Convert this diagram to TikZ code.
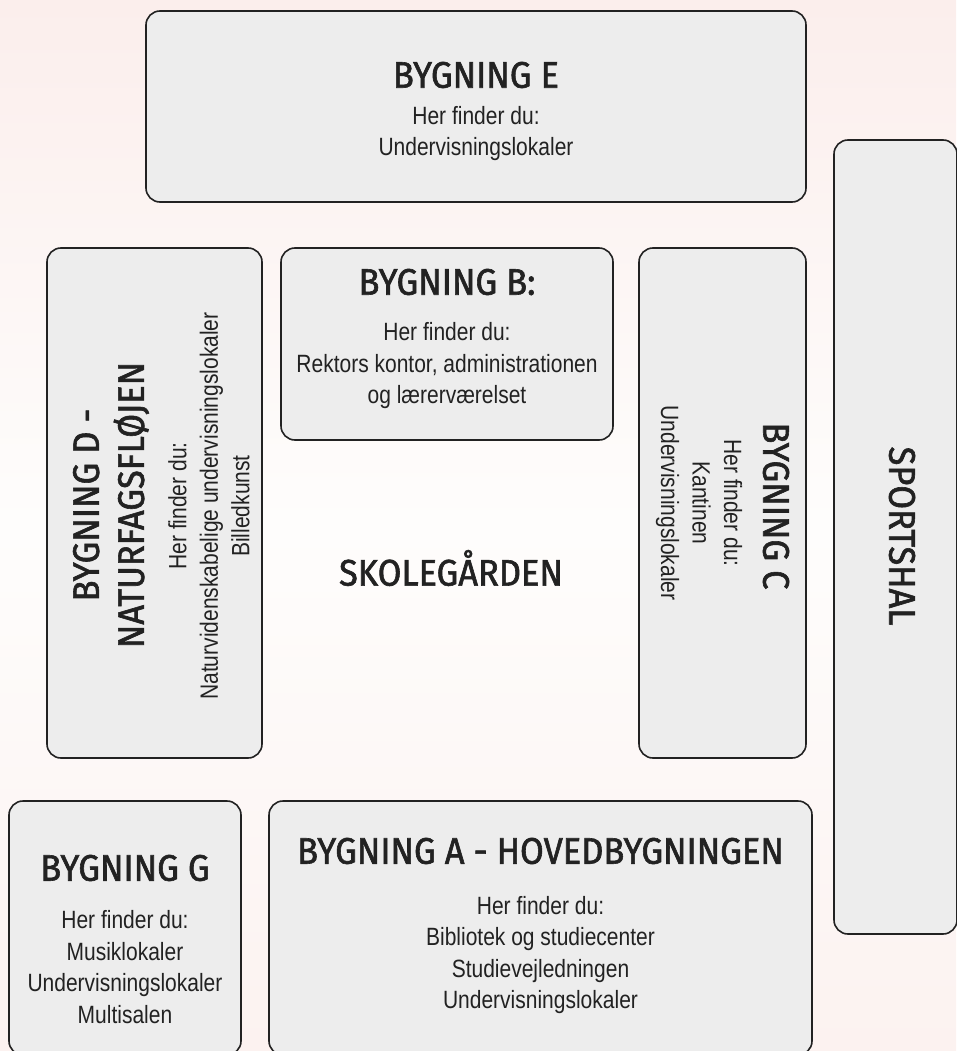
\documentclass[tikz,border=0pt]{standalone}
\usepackage{fontspec}
\setmainfont{Liberation Sans}[FakeStretch=0.84]
\newfontfamily\headfont{Fira Sans}[FakeStretch=0.93, FakeBold=1.6]
\usepackage{tikz}
\usetikzlibrary{%
  positioning%
}
\definecolor{husgraa}{HTML}{EDEDED}
\definecolor{kant}{HTML}{222222}
\definecolor{bgtop}{HTML}{FBEEEC}
\definecolor{bgmidt}{HTML}{FEFDFC}
\definecolor{bgbund}{HTML}{FCF2F0}

\tikzset{
  bygning/.style = {draw=kant, line width=1.6pt, fill=husgraa, rounded corners=14pt, inner sep=0pt},
  titel/.style   = {font=\headfont\fontsize{37}{45}\selectfont, text=kant, inner sep=0pt, align=center},
  info/.style    = {font=\fontsize{25}{31.5}\selectfont, text=kant, inner sep=0pt, align=center}
}

\begin{document}
\begin{tikzpicture}[x=1pt, y=-1pt]
  \useasboundingbox (0,0) rectangle (956,1051);
  \shade[top color=bgtop, bottom color=bgbund, middle color=bgmidt] (0,0) rectangle (956,1051);

  % bygninger
  \node[bygning, minimum width=660, minimum height=191] (bygE) at (476,106.5) {};
  \node[bygning, minimum width=332, minimum height=192] (bygB) at (447,344) {};
  \node[bygning, minimum width=215, minimum height=510] (bygD) at (154.5,503) {};
  \node[bygning, minimum width=167, minimum height=510] (bygC) at (722.5,503) {};
  \node[bygning, minimum width=123, minimum height=794] (sport) at (895.5,537) {};
  \node[bygning, minimum width=232, minimum height=254] (bygG) at (125,928) {};
  \node[bygning, minimum width=543, minimum height=254] (bygA) at (540.5,928) {};

  % overskrifter
  \node[titel] (titE) at (476,75) {BYGNING E};
  \node[titel] (titB) at (447,282) {BYGNING B:};
  \node[titel, rotate=90] (titD) at (111,505) {BYGNING D -\\NATURFAGSFLØJEN};
  \node[titel, rotate=-90] (titC) at (776,506) {BYGNING C};
  \node[titel, rotate=-90] (titS) at (902,536) {SPORTSHAL};
  \node[titel] (titG) at (125,868) {BYGNING G};
  \node[titel] (titA) at (540.5,851) {BYGNING A - HOVEDBYGNINGEN};
  \node[titel] (gaard) at (451,568) {SKOLEGÅRDEN};

  % her finder du
  \node[info] (infoE) at (476,133.5) {Her finder du:\\Undervisningslokaler};
  \node[info] (infoB) at (447,366) {Her finder du:\\Rektors kontor, administrationen\\og lærerværelset};
  \node[info, rotate=90] (infoD) at (209,506) {Her finder du:\\Naturvidenskabelige undervisningslokaler\\Billedkunst};
  \node[info, rotate=-90] (infoC) at (699,503) {Her finder du:\\Kantinen\\Undervisningslokaler};
  \node[info] (infoG) at (125,967) {Her finder du:\\Musiklokaler\\Undervisningslokaler\\Multisalen};
  \node[info] (infoA) at (540.5,955) {Her finder du:\\Bibliotek og studiecenter\\Studievejledningen\\Undervisningslokaler};
\end{tikzpicture}
\end{document}
